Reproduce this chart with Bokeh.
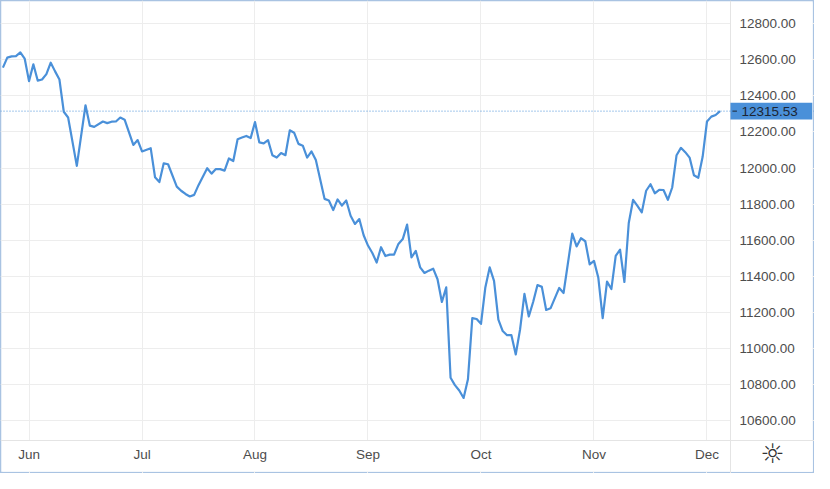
from bokeh.plotting import figure
from bokeh.models import (Range1d, FixedTicker, NumeralTickFormatter, Span, Label,
                          BoxAnnotation, Arrow)
from bokeh.embed import file_html
from bokeh.resources import INLINE

# ---- data ----
session = [0, 1, 2, 3, 4, 5, 6, 7, 8, 9, 10, 11, 12, 13, 14, 15, 17, 19, 20, 21,
           23, 24, 25, 26, 27, 28, 30, 31, 32, 34, 35, 36, 37, 38, 40, 41, 42, 43, 44, 45,
           47, 48, 49, 50, 51, 52, 53, 54, 55, 56, 57, 58, 59, 60, 61, 62, 63, 64, 65, 66,
           67, 68, 69, 70, 71, 72, 74, 75, 76, 77, 78, 79, 80, 81, 82, 83, 84, 85, 86, 87,
           88, 89, 90, 91, 92, 93, 94, 95, 96, 97, 98, 99, 100, 101, 102, 103, 104, 105, 106, 107,
           108, 109, 110, 111, 112, 113, 114, 115, 116, 117, 118, 119, 120, 121, 122, 123, 124, 125, 126, 128,
           129, 131, 132, 133, 134, 135, 136, 137, 138, 139, 140, 141, 142, 143, 144, 145, 146, 147, 148, 149,
           150, 151, 152, 153, 154, 155, 156, 157, 158, 159, 160, 161, 162, 163, 164, 165]
close = [12557, 12612, 12619, 12621, 12641, 12607, 12482, 12575, 12485, 12491, 12521, 12584, 12536, 12491, 12312, 12280, 12012, 12348, 12235, 12228,
         12258, 12249, 12257, 12258, 12280, 12268, 12128, 12155, 12092, 12110, 11949, 11922, 12026, 12021, 11897, 11874, 11856, 11842, 11851, 11905,
         11999, 11969, 11994, 11994, 11985, 12053, 12039, 12160, 12169, 12178, 12166, 12255, 12142, 12137, 12155, 12071, 12058, 12083, 12071, 12209,
         12196, 12134, 12124, 12058, 12092, 12044, 11829, 11820, 11767, 11826, 11792, 11820, 11735, 11690, 11717, 11627, 11570, 11529, 11476, 11561,
         11512, 11520, 11520, 11579, 11606, 11686, 11504, 11540, 11449, 11418, 11431, 11442, 11383, 11257, 11338, 10837, 10796, 10766, 10725, 10828,
         11168, 11163, 11136, 11338, 11449, 11374, 11159, 11096, 11073, 11073, 10966, 11106, 11302, 11177, 11257, 11351, 11341, 11213, 11222, 11335,
         11307, 11636, 11565, 11611, 11594, 11466, 11485, 11391, 11168, 11370, 11329, 11513, 11547, 11368, 11695, 11824, 11790, 11754, 11874, 11910,
         11860, 11879, 11878, 11824, 11892, 12071, 12112, 12088, 12058, 11960, 11946, 12062, 12258, 12285, 12294, 12315.53]
last_price = 12315.53
month_ticks = [6, 32, 58, 84, 110, 136, 162]
month_labels = ["Jun", "Jul", "Aug", "Sep", "Oct", "Nov", "Dec"]
price_ticks = [10600, 10800, 11000, 11200, 11400, 11600, 11800, 12000, 12200, 12400, 12600, 12800]

LINE = "#4a90d9"
FONT = "Liberation Sans"
# visible ranges: plot area ends at XS / YS, the rest is the price / time scale strip
X0, XS, X1 = -0.56, 167.4, 186.74
Y0, YS, Y1 = 10306, 10489, 12929
PX_X = 814 / (X1 - X0)      # pixels per session
PX_Y = 473 / (Y1 - Y0)      # pixels per price unit

p = figure(width=814, height=473, output_backend="svg", toolbar_location=None,
           x_range=Range1d(X0, X1), y_range=Range1d(Y0, Y1),
           y_axis_location="right", min_border=0,
           background_fill_color="white", border_fill_color="white")
p.min_border_left = p.min_border_right = p.min_border_top = p.min_border_bottom = 0
p.outline_line_color = "#a9c3e2"
p.outline_line_width = 1.5

p.xgrid.ticker = FixedTicker(ticks=month_ticks)
p.ygrid.ticker = FixedTicker(ticks=price_ticks)
for g in (p.xgrid, p.ygrid):
    g.grid_line_color = "#ededed"
    g.grid_line_width = 1

# white strips under the scales (hide grid lines there), leaving the outer border visible
ex, ey = 2.0 / PX_X, 2.0 / PX_Y
p.add_layout(BoxAnnotation(left=XS, right=X1 - ex, bottom=Y0 + ey, top=Y1 - ey,
                           fill_color="white", fill_alpha=1, line_color=None, level="underlay"))
p.add_layout(BoxAnnotation(left=X0 + ex, right=X1 - ex, bottom=Y0 + ey, top=YS,
                           fill_color="white", fill_alpha=1, line_color=None, level="underlay"))

p.xaxis.ticker = FixedTicker(ticks=month_ticks)
p.xaxis.major_label_overrides = {t: l for t, l in zip(month_ticks, month_labels)}
p.xaxis.fixed_location = YS
p.yaxis.ticker = FixedTicker(ticks=price_ticks)
p.yaxis.formatter = NumeralTickFormatter(format="0.00")
p.yaxis.fixed_location = XS
for ax in (p.xaxis[0], p.yaxis[0]):
    ax.major_tick_line_color = None
    ax.major_tick_out = 0
    ax.major_tick_in = 0
    ax.minor_tick_line_color = None
    ax.minor_tick_out = 0
    ax.axis_line_color = "#e4e4e4"
    ax.major_label_text_font = FONT
    ax.major_label_text_font_size = "13.5px"
    ax.major_label_text_color = "#4d4d4d"
p.yaxis.major_label_standoff = 9
p.xaxis.major_label_standoff = 6

p.line(session, close, line_color=LINE, line_width=2.2, line_join="round")

p.add_layout(Span(location=last_price, dimension="width", line_color=LINE,
                  line_dash="1 2", line_width=1))

# last-price tag on the price scale
half_h = 8.3 / PX_Y
p.add_layout(BoxAnnotation(left=XS, right=X1 - 2.2 / PX_X, bottom=last_price - half_h,
                           top=last_price + half_h, fill_color=LINE, fill_alpha=1,
                           line_color=None))
p.add_layout(Arrow(x_start=XS + 2 / PX_X, x_end=XS + 6.5 / PX_X, y_start=last_price,
                   y_end=last_price, start=None, end=None, line_color="#1c2533", line_width=1))
p.add_layout(Label(x=XS, y=last_price, x_offset=11, text=f"{last_price:.2f}",
                   text_align="left", text_baseline="middle", text_font=FONT,
                   text_font_size="13.5px", text_color="#1c2533"))

p.add_layout(Label(x=(XS + X1) / 2, y=10419, text="\u263c", text_align="center",
                   text_baseline="middle", text_font="DejaVu Sans",
                   text_font_size="27px", text_color="#333333"))

open("out.html", "w").write(file_html(p, INLINE))
